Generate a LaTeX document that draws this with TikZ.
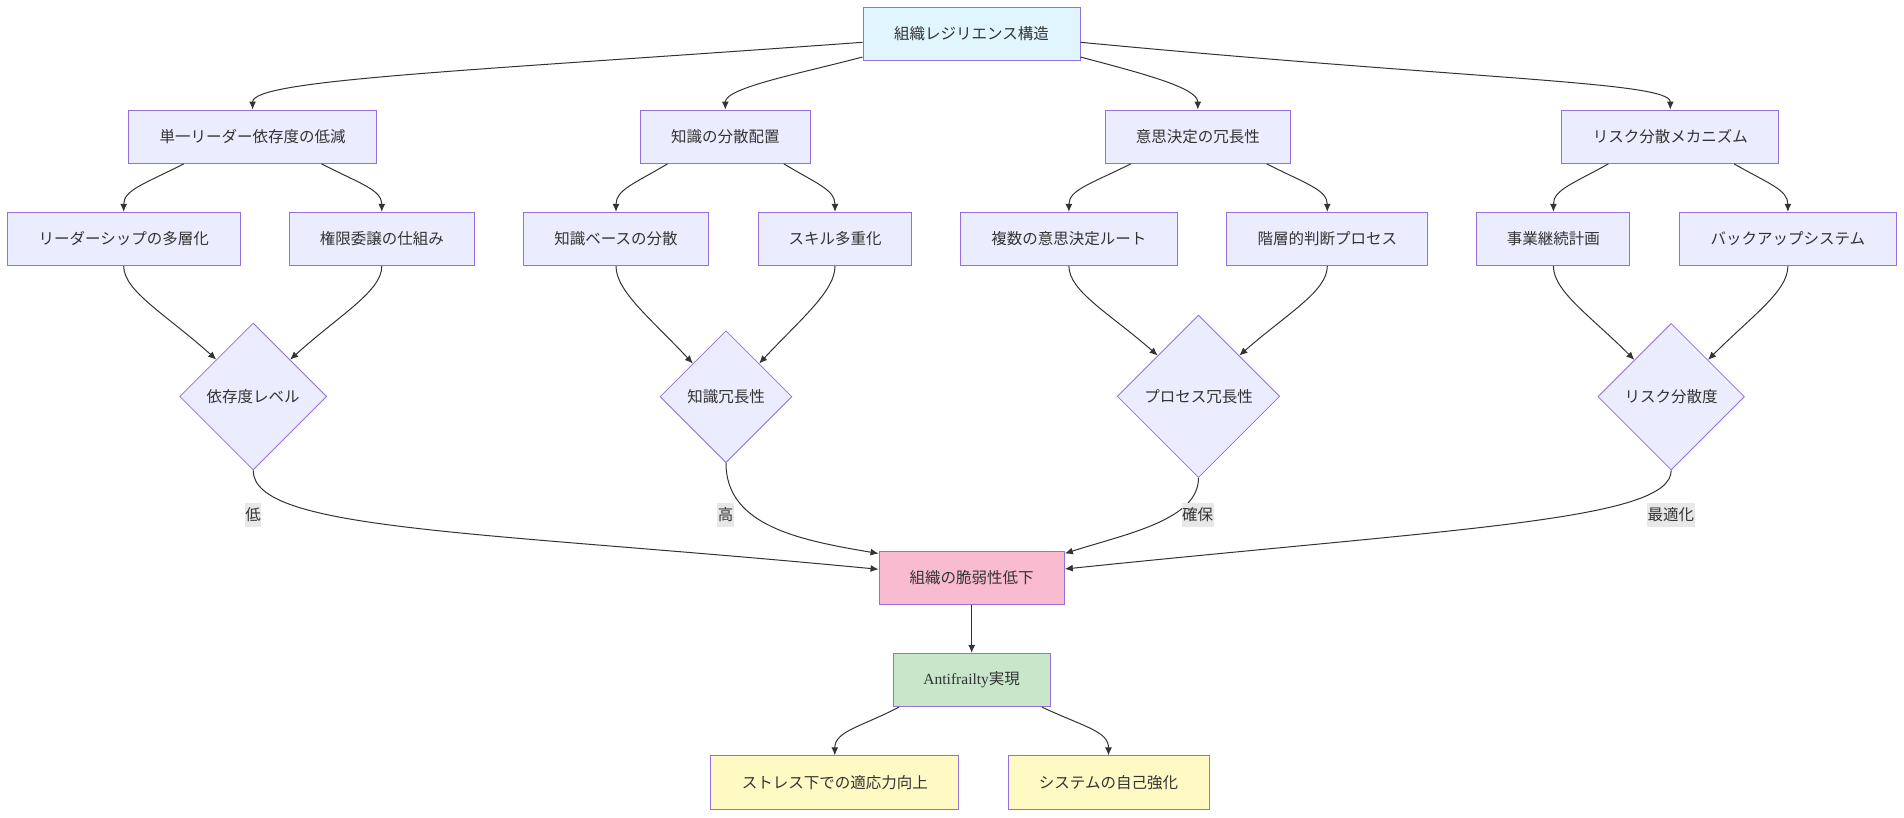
\documentclass[tikz,border=0pt]{standalone}
\usepackage{fontspec}
\setmainfont{Noto Sans CJK JP}
\newfontfamily\latserif{Liberation Serif}
\usetikzlibrary{shapes.geometric,arrows.meta}
\definecolor{nodefill}{HTML}{ECECFF}
\definecolor{nodestroke}{HTML}{9370DB}
\definecolor{topfill}{HTML}{E1F5FE}
\definecolor{pinkfill}{HTML}{F8BBD0}
\definecolor{greenfill}{HTML}{C8E6C9}
\definecolor{yellowfill}{HTML}{FFF9C4}
\definecolor{edgecol}{HTML}{333333}
\definecolor{lblfill}{HTML}{E8E8E8}
\begin{document}
\begin{tikzpicture}[x=1pt,y=-1pt,
  every node/.style={font=\fontsize{15.5}{18}\selectfont, text=edgecol},
  box/.style={draw=nodestroke, line width=1pt, fill=nodefill, rectangle, minimum height=53.3pt, minimum width=#1, inner sep=0pt},
  dia/.style={draw=nodestroke, line width=0.8pt, fill=nodefill, diamond, minimum width=#1, minimum height=#1, inner sep=0pt, aspect=1},
  edge/.style={draw=edgecol, line width=1pt, -{Latex[length=8pt,width=7pt]}},
  elabel/.style={fill=lblfill, inner xsep=0.5pt, inner ysep=3pt, minimum height=24pt}
]
\fill[white] (0,0) rectangle (1904,817);
\useasboundingbox (0,0) rectangle (1904,817);

% nodes
\node[box=217pt, fill=topfill] (T) at (971.5,34) {組織レジリエンス構造};
\node[box=248pt] (A1) at (252.6,136.7) {単一リーダー依存度の低減};
\node[box=169.7pt] (A2) at (725.3,136.7) {知識の分散配置};
\node[box=185.6pt] (A3) at (1197.8,136.7) {意思決定の冗長性};
\node[box=216.8pt] (A4) at (1670.3,136.7) {リスク分散メカニズム};

\node[box=232.7pt] (B1) at (123.7,239) {リーダーシップの多層化};
\node[box=185.6pt] (B2) at (381.8,239) {権限委譲の仕組み};
\node[box=184.9pt] (B3) at (616,239) {知識ベースの分散};
\node[box=153.7pt] (B4) at (835,239) {スキル多重化};
\node[box=216.8pt] (B5) at (1068.9,239) {複数の意思決定ルート};
\node[box=200.9pt] (B6) at (1327.3,239) {階層的判断プロセス};
\node[box=153.1pt] (B7) at (1553.4,239) {事業継続計画};
\node[box=216.7pt] (B8) at (1787.9,239) {バックアップシステム};

\node[dia=147pt] (D1) at (253.2,396.5) {依存度レベル};
\node[dia=132pt] (D2) at (726,396.7) {知識冗長性};
\node[dia=162.4pt] (D3) at (1198.5,396.3) {プロセス冗長性};
\node[dia=146.6pt] (D4) at (1671.2,396.7) {リスク分散度};

\node[box=185.3pt, fill=pinkfill, minimum height=52.6pt] (F) at (971.7,578) {組織の脆弱性低下};
\node[box=156.7pt, fill=greenfill] (G) at (971.7,680) {{\latserif Antifrailty}実現};
\node[box=248.2pt, fill=yellowfill] (H1) at (834.8,782.5) {ストレス下での適応力向上};
\node[box=201pt, fill=yellowfill] (H2) at (1108.5,782.5) {システムの自己強化};

% top edges
\draw[edge] ([yshift=-8.3pt]T.west) .. controls +(-400,29.1) and +(0,-30) .. (A1.north);
\draw[edge] ([yshift=-23pt]T.west) .. controls +(-60,16) and +(0,-22) .. (A2.north);
\draw[edge] ([yshift=-23pt]T.east) .. controls +(60,16) and +(0,-22) .. (A3.north);
\draw[edge] ([yshift=-8.3pt]T.east) .. controls +(400,38) and +(0,-28) .. (A4.north);

% level 1 -> level 2
\draw[edge] ([xshift=-68.9pt]A1.south) .. controls +(-39,20) and +(0,-22) .. (B1.north);
\draw[edge] ([xshift=68.9pt]A1.south) .. controls +(39,20) and +(0,-22) .. (B2.north);
\draw[edge] ([xshift=-57.8pt]A2.south) .. controls +(-33.5,20) and +(0,-22) .. (B3.north);
\draw[edge] ([xshift=58.5pt]A2.south) .. controls +(33.3,20) and +(0,-22) .. (B4.north);
\draw[edge] ([xshift=-67pt]A3.south) .. controls +(-40,20) and +(0,-22) .. (B5.north);
\draw[edge] ([xshift=68.9pt]A3.south) .. controls +(39.4,20) and +(0,-22) .. (B6.north);
\draw[edge] ([xshift=-61.9pt]A4.south) .. controls +(-35.8,20) and +(0,-22) .. (B7.north);
\draw[edge] ([xshift=63.7pt]A4.south) .. controls +(35,20) and +(0,-22) .. (B8.north);

% level 2 -> diamonds
\draw[edge] (B1.south) .. controls +(0,25) and +(-50,-45) .. (D1.north west);
\draw[edge] (B2.south) .. controls +(0,25) and +(50,-45) .. (D1.north east);
\draw[edge] (B3.south) .. controls +(0,25) and +(-42,-45) .. (D2.north west);
\draw[edge] (B4.south) .. controls +(0,25) and +(42,-45) .. (D2.north east);
\draw[edge] (B5.south) .. controls +(0,25) and +(-48,-42) .. (D3.north west);
\draw[edge] (B6.south) .. controls +(0,25) and +(48,-42) .. (D3.north east);
\draw[edge] (B7.south) .. controls +(0,25) and +(-44,-44) .. (D4.north west);
\draw[edge] (B8.south) .. controls +(0,25) and +(44,-44) .. (D4.north east);

% diamonds -> F
\draw[edge] (D1.south) .. controls +(0,60.7) and +(-399,-38.3) .. ([yshift=8.7pt]F.west);
\draw[edge] (D2.south) .. controls +(0,62.7) and +(-79,-13.3) .. ([yshift=24.5pt]F.west);
\draw[edge] (D3.south) .. controls +(0,42.3) and +(60.7,-19.5) .. ([yshift=24.5pt]F.east);
\draw[edge] (D4.south) .. controls +(0,50) and +(395.7,-41) .. ([yshift=9pt]F.east);

% lower edges
\draw[edge] (F.south) -- (G.north);
\draw[edge] ([xshift=-72.7pt]G.south) .. controls +(-39,20) and +(0,-24) .. (H1.north);
\draw[edge] ([xshift=70.3pt]G.south) .. controls +(43,20) and +(0,-24) .. (H2.north);

% edge labels
\node[elabel] (L1) at (253,514.7) {低};
\node[elabel] (L2) at (725.6,514.7) {高};
\node[elabel] (L3) at (1197.5,514.7) {確保};
\node[elabel] (L4) at (1670.9,514.7) {最適化};
\end{tikzpicture}
\end{document}
